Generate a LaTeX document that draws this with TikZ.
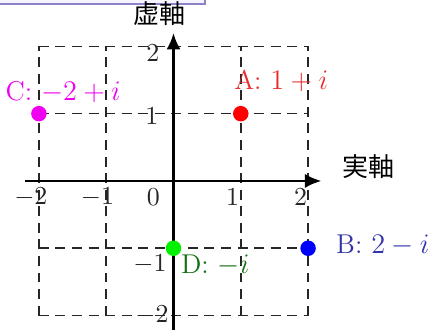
\documentclass[tikz,border=0pt]{standalone}
\usepackage{fontspec}
\newfontfamily\jpfont{Noto Sans CJK JP}
\usetikzlibrary{arrows.meta}
\definecolor{boxborder}{RGB}{140,130,200}
\definecolor{boxfill}{RGB}{246,244,255}
\definecolor{bluelabel}{RGB}{50,50,170}
\definecolor{greenlabel}{RGB}{20,110,20}
\definecolor{redlabel}{RGB}{232,45,45}
\definecolor{magentafull}{RGB}{240,0,240}
\definecolor{reddot}{RGB}{255,0,0}
\definecolor{bluedot}{RGB}{0,0,255}
\definecolor{greendot}{RGB}{0,240,0}
\tikzset{
  gridline/.style={black!85, line width=0.65pt, dash pattern=on 4.2pt off 2.8pt},
  axisline/.style={black, line width=1.2pt, -{Latex[length=7pt,width=6pt]}},
  ticklab/.style={font=\fontsize{11}{13}\selectfont, text=black!85, inner sep=0pt},
  ptlab/.style={font=\fontsize{11.5}{13}\selectfont, inner sep=0pt},
  axlab/.style={font=\jpfont\fontsize{11}{13}\selectfont, inner sep=0pt},
  dot/.style={circle, inner sep=0pt, minimum size=0.23cm},
}
\begin{document}
\begin{tikzpicture}
\useasboundingbox (-2.578,-2.214) rectangle (3.841,2.689);
\clip (-2.578,-2.214) rectangle (3.841,2.689);
% title box (clipped)
\draw[boxborder, fill=boxfill, line width=0.9pt] (-2.8,2.632) rectangle (0.468,3.2);
% grid
\foreach \v in {-2,-1,0,1,2} {
  \draw[gridline] (-2,\v) -- (2,\v);
  \draw[gridline] (\v,-2) -- (\v,2);
}
% axes
\coordinate (xs) at (-2.2,0);
\coordinate (xe) at (2.2,0);
\coordinate (ys) at (0,-2.25);
\coordinate (ye) at (0,2.2);
\draw[axisline] (xs) -- (xe);
\draw[axisline] (ys) -- (ye);
\node[axlab] (re) at (2.905,0.21) {実軸};
\node[axlab] (im) at (-0.215,2.48) {虚軸};
% tick labels
\node[ticklab] (xm2) at (-2.12,-0.24) {$-2$};
\node[ticklab] (xm1) at (-1.13,-0.24) {$-1$};
\node[ticklab] (x0) at (-0.30,-0.24) {$0$};
\node[ticklab] (x1) at (0.88,-0.24) {$1$};
\node[ticklab] (x2) at (1.89,-0.24) {$2$};
\node[ticklab] (y2) at (-0.305,1.90) {$2$};
\node[ticklab] (y1) at (-0.32,0.96) {$1$};
\node[ticklab] (ym1) at (-0.35,-1.23) {$-1$};
\node[ticklab] (ym2) at (-0.32,-1.99) {$-2$};
% points
\node[dot, fill=reddot] (A) at (1,1) {};
\node[dot, fill=bluedot] (B) at (2,-1) {};
\node[dot, fill=magentafull] (C) at (-2,1) {};
\node[dot, fill=greendot] (D) at (0,-1) {};
\node[ptlab, text=redlabel] (Al) at (1.60,1.49) {A: $1+i$};
\node[ptlab, text=bluelabel] (Bl) at (3.11,-0.95) {B: $2-i$};
\node[ptlab, text=magentafull] (Cl) at (-1.64,1.32) {C: $-2+i$};
\node[ptlab, text=greenlabel] (Dl) at (0.62,-1.25) {D: $-i$};
\end{tikzpicture}
\end{document}
